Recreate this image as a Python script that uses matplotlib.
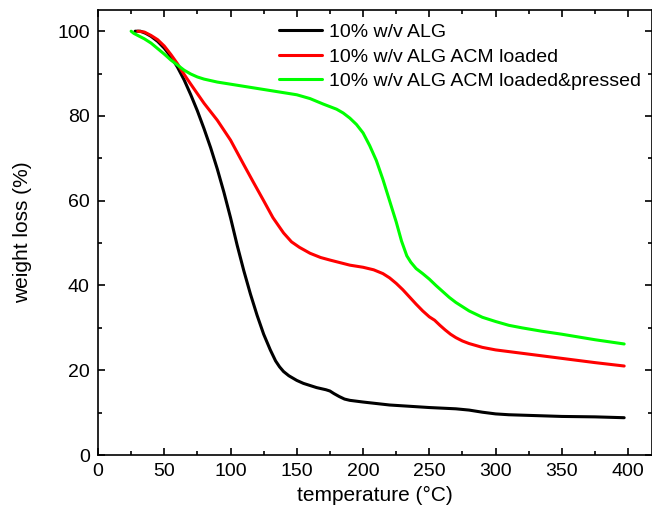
import matplotlib
matplotlib.use("Agg")
import matplotlib.pyplot as plt
from matplotlib.ticker import MultipleLocator

plt.rcParams['font.family'] = ['Liberation Sans', 'DejaVu Sans']

# TGA curves
alg_t = [28, 32, 36, 40, 45, 50, 55, 60, 65, 70, 75, 80, 85, 90, 95, 100, 105,
         110, 115, 120, 125, 130, 134, 137, 140, 144, 150, 155, 165, 172, 175, 178,
         182, 186, 190, 200, 220, 250, 270, 280, 290, 300, 310, 330, 350, 375, 397]
alg_w = [100, 100, 99.5, 98.8, 97.6, 96, 94, 91.5, 88.5, 85, 81.2, 77, 72.5,
         67.5, 62, 56, 49.5, 43.5, 38, 33, 28.5, 24.8, 22.2, 20.8, 19.7, 18.7,
         17.6, 16.9, 15.9, 15.4, 15.1, 14.5, 13.8, 13.2, 12.9, 12.5, 11.8, 11.2,
         10.9, 10.6, 10.1, 9.7, 9.5, 9.3, 9.1, 9.0, 8.8]

acm_t = [30, 35, 40, 45, 50, 55, 60, 65, 70, 80, 90, 100, 110, 117, 125, 132,
         140, 146, 152, 160, 168, 175, 190, 200, 208, 215, 220, 225, 230, 235,
         240, 245, 250, 254, 258, 262, 266, 270, 275, 280, 290, 300, 320, 350,
         375, 397]
acm_w = [100, 99.8, 99, 98, 96.5, 94.5, 92.3, 89.8, 87.5, 83, 79, 74.3, 68.5,
         64.5, 60, 56, 52.4, 50.3, 49, 47.6, 46.6, 46, 44.8, 44.3, 43.7, 42.8,
         41.8, 40.5, 39, 37.3, 35.6, 34, 32.6, 31.8, 30.6, 29.5, 28.5, 27.7,
         26.9, 26.3, 25.4, 24.8, 24, 22.8, 21.8, 21]

pr_t = [25, 27, 30, 35, 40, 45, 50, 55, 60, 65, 70, 75, 80, 90, 100, 120, 140,
        150, 160, 170, 180, 185, 190, 195, 200, 205, 210, 215, 220, 225, 229,
        233, 236, 240, 245, 250, 255, 260, 265, 270, 275, 280, 290, 300, 310,
        320, 335, 350, 375, 397]
pr_w = [100, 99.5, 99, 98.2, 97.2, 95.9, 94.6, 93.2, 92, 90.8, 89.9, 89.2,
        88.7, 88, 87.5, 86.5, 85.5, 85, 84.1, 82.8, 81.6, 80.7, 79.5, 78, 76,
        73, 69.5, 65, 60, 55, 50.5, 47, 45.5, 44, 42.8, 41.5, 40, 38.6, 37.2,
        36, 35, 34, 32.5, 31.5, 30.6, 30, 29.2, 28.5, 27.2, 26.2]

labels = ['10% w/v ALG', '10% w/v ALG ACM loaded', '10% w/v ALG ACM loaded&pressed']

fig = plt.figure(figsize=(6.52, 5.19), dpi=100)
ax = fig.add_axes([0.1503, 0.1233, 0.8497, 0.8574])

kw = dict(lw=2.2, solid_joinstyle='round', solid_capstyle='round')
ax.plot(alg_t, alg_w, color='black', label=labels[0], **kw)
ax.plot(acm_t, acm_w, color='#ff0000', label=labels[1], **kw)
ax.plot(pr_t, pr_w, color='#00ff00', label=labels[2], **kw)

ax.set_xlim(0, 418)
ax.set_ylim(0, 105)
ax.xaxis.set_major_locator(MultipleLocator(50))
ax.xaxis.set_minor_locator(MultipleLocator(25))
ax.yaxis.set_major_locator(MultipleLocator(20))
ax.yaxis.set_minor_locator(MultipleLocator(10))
ax.tick_params(which='both', direction='in', top=True, right=True, labelsize=14)
ax.tick_params(which='major', length=5, width=1.2, pad=6)
ax.tick_params(which='minor', length=3, width=1.2)
for s in ax.spines.values():
    s.set_linewidth(1.2)

ax.set_xlabel('temperature (°C)', fontsize=15)
ax.set_ylabel('weight loss (%)', fontsize=15, labelpad=18)

ax.legend(loc='upper left', bbox_to_anchor=(0.327, 0.97), frameon=False,
          fontsize=14, borderpad=0, borderaxespad=0, handlelength=2.2,
          handletextpad=0.36, labelspacing=0.36)

fig.savefig('out.png', dpi=100)
